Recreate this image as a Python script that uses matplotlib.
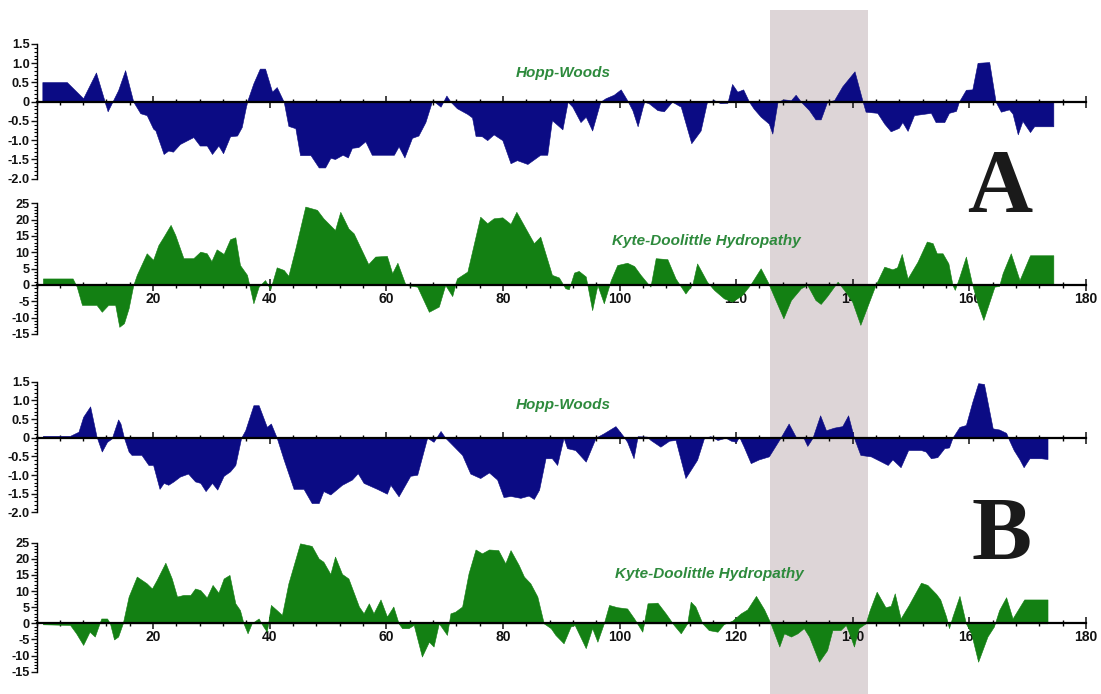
import numpy as np
import matplotlib
matplotlib.use('Agg')
import matplotlib.pyplot as plt
from matplotlib.ticker import MultipleLocator, FuncFormatter
from matplotlib.patches import Rectangle
from matplotlib.transforms import blended_transform_factory

plt.rcParams['font.family'] = ['Liberation Sans', 'DejaVu Sans']

# Hopp-Woods, panel A (residue position, score)
hw_a_x = [1, 5.2, 8, 10.2, 12.2, 14, 15.2, 16.6, 17.8, 18.9, 20, 20.4, 21.8, 22.6, 23.4, 24.6,
          26.9, 28, 29.2, 30.1, 31.2, 32, 33.2, 34.4, 35.2, 36.1, 37.2, 38.3, 39.2, 40.4, 41.2,
          42.4, 43.2, 44.4, 45.2, 47, 48.4, 49.5, 50.4, 51.2, 52.5, 53.4, 54.1, 55.2, 56.4, 57.5,
          61.3, 62.1, 63.1, 64.4, 65.5, 66.7, 67.8, 68.4, 69.3, 70.3, 71, 72.1, 73.9, 74.7, 75.3,
          76.4, 77.3, 78.4, 79.9, 81.3, 82.4, 84.2, 85.3, 86.4, 87.6, 88.4, 90.2, 91.1, 91.9,
          93.3, 94.2, 95.3, 96.7, 97.6, 99, 100.2, 101.3, 102.2, 103.1, 104.2, 105, 106.5, 107.6,
          109, 110.5, 112.3, 113.9, 115, 116.2, 117.3, 118.5, 119.3, 120.2, 121.2, 122.2, 123,
          124.2, 125.6, 126.2, 127.1, 128.2, 129.4, 130.2, 131.1, 132.5, 133.6, 134.5, 135.6,
          136.8, 138.2, 140.3, 141.7, 142.2, 144.2, 145.4, 146.5, 147.9, 148.5, 149.4, 150.5,
          153.4, 154.2, 155.7, 156.5, 157.7, 158.2, 159.4, 160.5, 161.4, 163.4, 164.5, 165.4,
          166.8, 167.4, 168.3, 169.1, 170.4, 171.1, 174.4]
hw_a_y = [0.51, 0.51, 0.09, 0.76, -0.25, 0.3, 0.82, 0, -0.3, -0.35, -0.7, -0.75, -1.36, -1.27,
          -1.3, -1.1, -0.92, -1.14, -1.14, -1.36, -1.14, -1.34, -0.9, -0.88, -0.66, 0, 0.48, 0.86,
          0.86, 0.26, 0.38, 0, -0.63, -0.69, -1.39, -1.39, -1.71, -1.71, -1.46, -1.49, -1.38,
          -1.45, -1.2, -1.18, -1.03, -1.38, -1.38, -1.16, -1.45, -0.94, -0.88, -0.53, 0, -0.02,
          -0.13, 0.16, 0, -0.17, -0.32, -0.41, -0.89, -0.9, -1.0, -0.85, -1.0, -1.6, -1.52, -1.62,
          -1.5, -1.38, -1.38, -0.48, -0.72, 0, -0.13, -0.53, -0.39, -0.75, 0, 0.09, 0.18, 0.32,
          0.04, -0.22, -0.64, 0, -0.04, -0.22, -0.25, 0, -0.13, -1.08, -0.75, 0, 0.04, -0.04,
          -0.03, 0.46, 0.26, 0.32, 0, -0.18, -0.39, -0.57, -0.83, 0, 0.06, 0.04, 0.18, 0, -0.22,
          -0.46, -0.46, 0, 0.04, 0.4, 0.79, 0, -0.26, -0.29, -0.57, -0.77, -0.68, -0.53, -0.76,
          -0.35, -0.29, -0.53, -0.53, -0.29, -0.24, 0, 0.31, 0.32, 1.01, 1.03, 0, -0.26, -0.2,
          -0.31, -0.85, -0.5, -0.79, -0.64, -0.64]

# Kyte-Doolittle, panel A
kd_a_x = [1.1, 6.2, 6.9, 7.8, 10.3, 11.2, 12.3, 13.5, 14.2, 15, 15.8, 16.6, 17.2, 18.9, 20, 20.9,
          21.8, 23, 23.8, 25.2, 26.9, 28.1, 29.2, 30, 30.9, 32.1, 33.2, 34.1, 34.9, 36.1, 37.2,
          38.1, 39.2, 40.1, 41.2, 42.4, 43.2, 44.4, 46.1, 48.1, 49.2, 51.2, 52.1, 53.5, 54.4,
          56.9, 58.1, 60.1, 61, 61.9, 63.3, 65.3, 67.3, 69, 70.1, 71.3, 72.1, 73.9, 76.1, 77.3,
          78.4, 79.9, 81.3, 82.3, 84.2, 85.3, 86.4, 88.4, 89.6, 90.7, 91.3, 92.2, 93, 94.2, 95.3,
          96.2, 97.3, 98.5, 99.6, 101.3, 102.5, 103.6, 104.8, 105.3, 106.2, 108.2, 109.6, 111.3,
          112.5, 113.3, 115, 116.2, 117.9, 119.3, 121, 122.5, 124.2, 125.4, 126.5, 128.1, 129.4,
          131.1, 132.2, 133.6, 134.5, 135.6, 137.4, 138.5, 139.9, 141.3, 143.9, 145.4, 146.8,
          147.6, 148.4, 149.4, 151.1, 152.7, 153.7, 154.4, 155.4, 156.4, 157.1, 157.5, 158.3,
          159.4, 160.5, 161.4, 162.4, 164.3, 165.1, 165.7, 167.1, 168.6, 170.4, 174.4]
kd_a_y = [2.0, 2.0, -0.5, -6.1, -6.1, -8.2, -6.1, -6.1, -12.8, -11.7, -7.1, 0, 3.1, 9.7, 7.7,
          12.2, 14.8, 18.4, 15.3, 8.2, 8.2, 10.2, 9.7, 7.3, 10.9, 9.5, 14, 14.6, 6.1, 3.1, -5.6,
          -0.5, 1.5, -1.3, 5.4, 4.6, 2.8, 11.2, 24, 23, 20.4, 16.8, 22.4, 17.3, 15.8, 6.4, 8.7,
          8.9, 3.6, 6.8, 0, -0.5, -8.2, -6.6, 0, -3.4, 2, 4.1, 20.9, 18.9, 20.4, 20.7, 18.7, 22.4,
          16.3, 12.8, 14.8, 3.1, 2.3, -1.0, -1.3, 3.8, 4.3, 2.6, -7.7, 0, -5.6, 1.5, 6.1, 6.8,
          5.8, 3.1, 0.5, -0.5, 8.2, 7.9, 2, -2.6, 0.3, 6.6, 1, -1.5, -4.1, -5.1, -3.1, 0.3, 5.1,
          1, -3.6, -10.2, -4.6, -1, 0, -4.6, -5.8, -3.4, 1, -1.5, -5.1, -12.2, 0, 5.6, 4.8, 5.4,
          9.5, 2, 7.1, 13.3, 12.8, 9.7, 9.7, 6.6, 0, -1.5, 2.6, 8.7, 0, -5.6, -10.7, -0.5, -0.3,
          3.6, 9.7, 1.5, 9.1, 9.1]

# Hopp-Woods, panel B
hw_b_x = [1.1, 5.75, 7.2, 8, 9.2, 10.3, 11.2, 12.1, 12.9, 14, 14.4, 15, 15.8, 16.3, 18, 19.2, 20,
          21.1, 21.8, 22.6, 23.5, 24.6, 26, 27.2, 28.1, 29, 30.1, 31, 32.1, 33.2, 34.1, 35.1,
          35.8, 37.2, 38.1, 39.5, 40.2, 41.2, 42.4, 44.1, 45.8, 47.2, 48.4, 49.2, 50.4, 52.4,
          54.1, 55.1, 56.1, 58.4, 60.1, 60.7, 62.1, 64.1, 65.3, 67, 68.1, 69.3, 70.1, 71.3, 73,
          74.4, 76.1, 77.6, 79, 80.1, 81.3, 83, 84.4, 85.3, 86.2, 87.3, 88.4, 89.3, 90.4, 91,
          92.4, 94.2, 95.9, 97.3, 99.3, 100.7, 101.3, 102.4, 103.1, 104.7, 105.3, 107, 108.5,
          109.6, 111.3, 113.3, 114.5, 115.6, 116.8, 118.2, 119.1, 120, 120.5, 121.3, 122.5,
          123.9, 125.6, 127.6, 129, 130.2, 131.6, 132.2, 133.1, 134.4, 135.4, 136.8, 138.2,
          139.2, 140.2, 141.3, 143.1, 144.5, 146, 146.8, 148.2, 149.5, 151.7, 152.5, 153.4,
          154.5, 155.7, 156.5, 157.1, 158.3, 159.4, 160.5, 161.5, 162.5, 164, 165.1, 166.3,
          166.8, 167.6, 168.6, 169.3, 170.3, 172.3, 173.4]
hw_b_y = [0.05, 0.05, 0.16, 0.56, 0.84, 0.03, -0.37, -0.11, -0.02, 0.49, 0.38, 0, -0.37, -0.46,
          -0.46, -0.73, -0.73, -1.37, -1.21, -1.26, -1.17, -1.04, -0.96, -1.17, -1.21, -1.43,
          -1.21, -1.39, -1.02, -0.9, -0.73, 0, 0.2, 0.87, 0.87, 0.29, 0.38, 0, -0.59, -1.37,
          -1.37, -1.75, -1.75, -1.43, -1.52, -1.26, -1.12, -0.95, -1.21, -1.37, -1.5, -1.26,
          -1.57, -1.02, -0.99, 0, -0.11, 0.18, 0, -0.19, -0.46, -0.96, -1.08, -0.93, -1.12,
          -1.59, -1.56, -1.61, -1.55, -1.64, -1.39, -0.55, -0.55, -0.73, 0, -0.28, -0.33, -0.64,
          0, 0.12, 0.31, 0.03, -0.11, -0.55, 0.04, 0.03, -0.06, -0.24, -0.08, -0.06, -1.08,
          -0.59, 0, 0.04, -0.06, 0, -0.08, -0.11, 0.03, -0.24, -0.68, -0.58, -0.5, 0, 0.38, 0.03,
          -0.02, -0.22, 0, 0.6, 0.2, 0.27, 0.31, 0.6, 0, -0.46, -0.5, -0.61, -0.73, -0.58, -0.79,
          -0.33, -0.33, -0.37, -0.55, -0.52, -0.28, -0.26, 0, 0.29, 0.34, 0.96, 1.46, 1.44, 0.25,
          0.22, 0.13, -0.06, -0.33, -0.58, -0.79, -0.55, -0.55, -0.57]

# Kyte-Doolittle, panel B
kd_b_x = [1.1, 5.75, 6.8, 8, 9.1, 10, 11.1, 12.1, 12.6, 13.3, 14, 14.8, 15.8, 17.2, 18.9, 19.8,
          20.6, 22.1, 23.2, 24.1, 25.2, 26.4, 27.2, 28.1, 29.2, 30.2, 31.2, 32.1, 33.1, 34.1,
          34.9, 35.5, 36.2, 36.9, 38.1, 38.9, 39.5, 40.2, 41.2, 42.1, 43.2, 45.2, 47.2, 48.4,
          49.2, 50.4, 51.2, 52.4, 53.5, 55.3, 56.1, 57, 57.8, 59, 60.1, 61.2, 62.1, 62.7, 63.8,
          64.7, 66.1, 67.3, 68.1, 69, 69.4, 70.4, 71, 71.8, 73, 74.1, 75.3, 76.4, 77.6, 79.2,
          80.4, 81.3, 82.7, 83.6, 84.7, 85.9, 87, 88.2, 89, 90.4, 91.6, 92.3, 94.2, 95.3, 96.2,
          97.3, 98.2, 99.6, 101.3, 102.5, 103.9, 104.8, 106.5, 107.9, 109.3, 110.5, 111.6, 112.2,
          113, 114.2, 115.3, 116.8, 117.9, 119.3, 120.8, 121.9, 123.4, 124.8, 125.9, 127.4,
          128.2, 129.4, 130.5, 131.6, 132.5, 134.2, 135.6, 136.5, 137.9, 138.8, 139.6, 140.2,
          141, 142.2, 142.9, 144.1, 145.6, 146.5, 147.2, 148.2, 149.6, 151.7, 152.8, 154.3, 155,
          156, 156.5, 157.1, 158.3, 159.4, 160.3, 161.5, 163.1, 164.2, 165.1, 166.3, 167.4,
          169.4, 173.4]
kd_b_y = [-0.3, -0.5, -3.1, -6.7, -2.6, -4.1, 1.5, 1.5, 0, -5.0, -4.1, 0, 8.3, 14.5, 12.4, 10.8,
          13.4, 18.8, 13.9, 8.3, 8.8, 8.8, 10.8, 10.3, 8.0, 11.9, 9.5, 13.9, 15.0, 6.2, 4.1, 0,
          -3.1, 0, 1.5, -1.0, -2.6, 5.7, 4.1, 2.6, 12.4, 24.8, 24.0, 20.1, 19.1, 15.3, 20.7, 15.3,
          13.9, 5.2, 3.1, 6.2, 3.1, 7.4, 2.1, 5.2, 0, -1.5, -1.5, -0.5, -10.3, -5.7, -7.2, 0,
          -1.0, -3.6, 3.1, 3.6, 5.2, 15.5, 22.9, 21.7, 22.9, 22.7, 18.6, 22.7, 18.1, 14.5, 12.4,
          8.3, 0, -1.5, -3.6, -6.2, -1.0, -0.5, -7.7, -1.5, -5.7, 0, 5.7, 5.0, 4.6, 1.5, -2.6,
          6.2, 6.4, 3.1, -0.5, -3.1, 0, 6.7, 5.2, 0, -2.1, -2.6, -0.2, 0.8, 3.1, 4.3, 8.5, 4.3, 0,
          -7.2, -3.1, -4.1, -3.1, -1.5, -4.1, -11.9, -8.3, -2.1, -2.1, -0.5, -4.1, -7.2, -1.5, 0,
          4.1, 9.8, 5.0, 5.4, 9.3, 1.5, 5.7, 12.6, 11.9, 9.1, 7.4, 2.1, -1.5, 2.1, 8.5, 0, -3.1,
          -11.9, -4.1, -1.0, 4.1, 8.1, 1.5, 7.4, 7.4]

x_major = np.arange(20, 181, 20)
hw_ticks = np.arange(-2.0, 1.51, 0.5)
kd_ticks = np.arange(-15, 26, 5)

navy = '#0b0b84'
green = '#138013'
label_green = '#2d8a3c'

fig = plt.figure(figsize=(11.01, 6.94), dpi=100)

left = 36.5 / 1101
width = 1049.5 / 1101


def panel(top_px, bottom_px, xs, ys, color, ticks, minor, fmt, show_x):
    ax = fig.add_axes([left, 1 - bottom_px / 694, width, (bottom_px - top_px) / 694])
    ax.patch.set_visible(False)
    ax.fill_between(xs, ys, 0, color=color, lw=0.4, zorder=2.6)
    ax.set_xlim(0, 180)
    ax.set_ylim(ticks[0], ticks[-1])
    ax.set_xticks(x_major)
    ax.xaxis.set_minor_locator(MultipleLocator(4))
    ax.set_yticks(ticks)
    ax.yaxis.set_minor_locator(MultipleLocator(minor))
    ax.yaxis.set_major_formatter(FuncFormatter(fmt))
    for s in ['top', 'right']:
        ax.spines[s].set_visible(False)
    ax.spines['bottom'].set_position(('data', 0))
    ax.spines['bottom'].set_linewidth(1.6)
    ax.spines['bottom'].set_zorder(3)
    ax.spines['left'].set_linewidth(1.0)
    ax.tick_params(axis='x', which='major', direction='inout', length=8, width=1.1,
                   labelsize=10, pad=1, labelbottom=show_x, colors='#111111')
    ax.tick_params(axis='x', which='minor', direction='inout', length=5, width=1.0)
    ax.tick_params(axis='y', which='major', direction='out', length=4, width=1.0,
                   labelsize=9.2, pad=1, colors='#111111')
    ax.tick_params(axis='y', which='minor', direction='out', length=2.5, width=0.8)
    for t in ax.get_xticklabels() + ax.get_yticklabels():
        t.set_fontweight('bold')
    return ax


def hw_fmt(v, pos):
    return '0' if abs(v) < 1e-9 else f'{v:.1f}'


def kd_fmt(v, pos):
    return '0' if abs(v) < 1e-9 else f'{v:.0f}'


ax1 = panel(44, 178.6, hw_a_x, hw_a_y, navy, hw_ticks, 0.1, hw_fmt, False)
ax2 = panel(203.3, 334, kd_a_x, kd_a_y, green, kd_ticks, 1, kd_fmt, True)
ax3 = panel(381.7, 512.4, hw_b_x, hw_b_y, navy, hw_ticks, 0.1, hw_fmt, False)
ax4 = panel(542.7, 671.7, kd_b_x, kd_b_y, green, kd_ticks, 1, kd_fmt, True)

# shaded region across all panels
trans = blended_transform_factory(ax1.transData, fig.transFigure)
fig.add_artist(Rectangle((125.8, 0), 16.8, 1 - 10 / 694, transform=trans,
                         facecolor='#ddd5d7', edgecolor='none', zorder=-1))

title_kw = dict(color=label_green, fontsize=11, fontweight='bold', style='italic',
                ha='center', va='center')
fig.text(563 / 1101, 1 - 73 / 694, 'Hopp-Woods', **title_kw)
fig.text(706 / 1101, 1 - 241 / 694, 'Kyte-Doolittle Hydropathy', **title_kw)
fig.text(563 / 1101, 1 - 405 / 694, 'Hopp-Woods', **title_kw)
fig.text(709 / 1101, 1 - 574 / 694, 'Kyte-Doolittle Hydropathy', **title_kw)

big_kw = dict(family=['Liberation Serif', 'DejaVu Serif'], fontsize=65, fontweight='bold',
              color='#1a1a1a', ha='center', va='center')
fig.text(1000 / 1101, 1 - 190 / 694, 'A', **big_kw)
fig.text(1002 / 1101, 1 - 538 / 694, 'B', **big_kw)

fig.savefig('out.png', dpi=100)
